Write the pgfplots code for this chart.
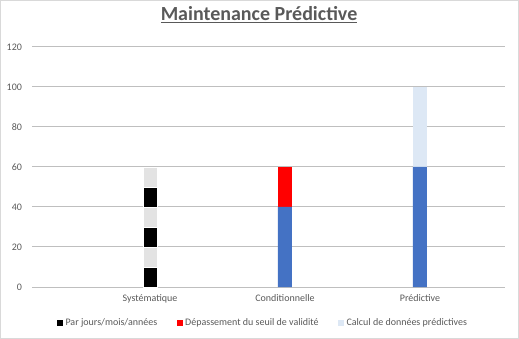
\documentclass[border=0pt]{standalone}
\usepackage{pgfplots}
\pgfplotsset{compat=1.18}
\usepackage{fontspec}
\setmainfont{Carlito}
\definecolor{txt}{HTML}{595959}
\definecolor{grid}{HTML}{D9D9D9}
\definecolor{sysgray}{HTML}{E3E3E3}
\definecolor{blue1}{HTML}{4472C4}
\definecolor{lblue}{HTML}{DDE8F5}
\begin{document}
\begin{tikzpicture}[x=1pt,y=1pt]
\draw[grid, line width=0.75pt] (0.4,0.4) rectangle (388.85,253.85);
\begin{axis}[
  at={(24pt,39pt)}, anchor=south west,
  scale only axis, width=354.75pt, height=180pt,
  ybar stacked, bar width=10.5pt,
  xmin=-0.874, xmax=2.630, ymin=0, ymax=120,
  ytick={0,20,...,120},
  xtick={0,1,2}, xticklabels={Systématique,Conditionnelle,Prédictive},
  axis line style={draw=none},
  major tick length=0pt,
  xtick style={draw=none}, ytick style={draw=none},
  xmajorgrids=false,
  ymajorgrids, grid style={grid, line width=0.75pt},
  tick label style={font=\fontsize{7.5}{9}\selectfont, text=txt},
  /pgf/number format/assume math mode=true,
  yticklabel style={xshift=-4pt},
  xticklabel style={yshift=-2pt},
  title={\textbf{\underline{Maintenance Prédictive}}},
  title style={at={(0.48,1.1)}, anchor=center, font=\fontsize{15}{17}\selectfont, text=txt},
  legend columns=3,
  legend style={at={(0.489,-0.15)}, anchor=center, draw=none, fill=none,
     font=\fontsize{7.5}{9}\selectfont, text=txt,
     /tikz/every even column/.append style={column sep=12.5pt}},
  legend image code/.code={\fill[#1,draw=none] (0pt,-2.2pt) rectangle (4.4pt,2.2pt);},
  clip=false,
]
\addplot[fill=black, draw=white, line width=0.4pt] coordinates {(0,10) (1,0) (2,0)};
\addlegendentry{Par jours/mois/années}
\addplot[fill=sysgray, draw=white, line width=0.4pt, forget plot] coordinates {(0,10) (1,0) (2,0)};
\addplot[fill=black, draw=white, line width=0.4pt, forget plot] coordinates {(0,10) (1,0) (2,0)};
\addplot[fill=sysgray, draw=white, line width=0.4pt, forget plot] coordinates {(0,10) (1,0) (2,0)};
\addplot[fill=black, draw=white, line width=0.4pt, forget plot] coordinates {(0,10) (1,0) (2,0)};
\addplot[fill=sysgray, draw=white, line width=0.4pt, forget plot] coordinates {(0,10) (1,0) (2,0)};
\addplot[fill=blue1, draw=none, forget plot] coordinates {(0,0) (1,40) (2,60)};
\addplot[fill=red, draw=none] coordinates {(0,0) (1,20) (2,0)};
\addlegendentry{Dépassement du seuil de validité}
\addplot[fill=lblue, draw=none] coordinates {(0,0) (1,0) (2,40)};
\addlegendentry{Calcul de données prédictives}
\end{axis}
\end{tikzpicture}
\end{document}
